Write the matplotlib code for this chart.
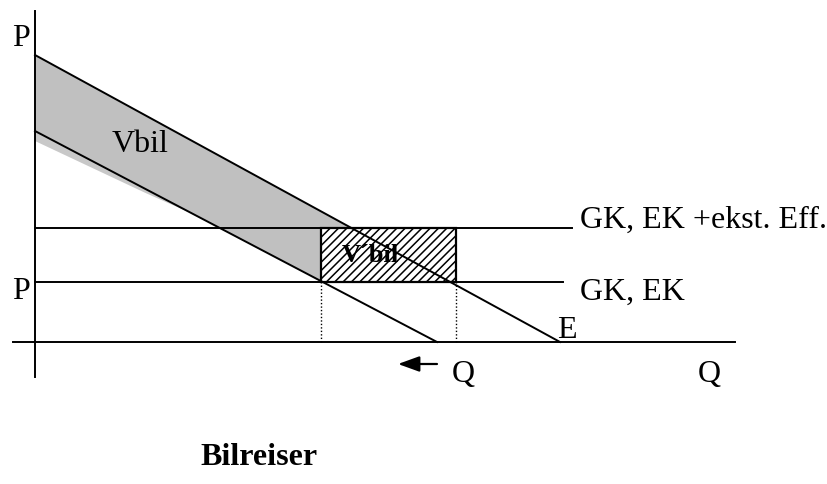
import numpy as np
import matplotlib
matplotlib.use("Agg")
import matplotlib.pyplot as plt
from matplotlib.patches import Rectangle, Polygon

plt.rcParams['font.family'] = ['Liberation Serif', 'DejaVu Serif']
plt.rcParams['hatch.linewidth'] = 1.1
plt.rcParams['hatch.color'] = '#555555'

# demand curves (P-intercept, Q-intercept)
demand_before = (287, 525)   # E
demand_after = (211, 402)    # shifted in
# price levels: GK, EK  and  GK, EK + ekst. Eff.
p_low = 60
p_high = 114
p_line_end = [528, 537]
price_labels = ["GK, EK", "GK, EK +ekst. Eff."]
# tax wedge rectangle V'bil
rect_q = [286, 421]
# axis extents
q_axis = [-22, 700]
p_axis = [-35, 331]


def demand(q, d):
    p0, q0 = d
    return p0 * (1 - q / q0)


fig = plt.figure(figsize=(8.28, 4.85), dpi=100)
ax = fig.add_axes([0, 0, 1, 1])
ax.set_xlim(-35, 793)
ax.set_ylim(-142, 343)
ax.axis('off')

lw = 1.4
# axes
ax.plot(q_axis, [0, 0], color='black', lw=lw)
ax.plot([0, 0], p_axis, color='black', lw=lw)

# grey band between the two demand curves
q_top = demand_before[1] * (1 - p_high / demand_before[0])
qq = np.linspace(0, q_top, 200)
upper = demand(qq, demand_before)
lower = np.maximum(demand(qq, demand_after), p_low)
ax.fill_between(qq, lower, upper, color='#c0c0c0', lw=0, zorder=1)
# shadow under the lower curve
ax.add_patch(Polygon([(0, demand_after[0]), (0, demand_after[0] - 10),
                      (110, demand(110, demand_after) - 4),
                      (160, demand(160, demand_after))],
                     closed=True, color='#c8c8c8', lw=0, zorder=1))

# price lines
ax.plot([0, p_line_end[0]], [p_low, p_low], color='black', lw=lw, zorder=3)
ax.plot([0, p_line_end[1]], [p_high, p_high], color='black', lw=lw, zorder=3)

# hatched rectangle
ax.add_patch(Rectangle((rect_q[0], p_low), rect_q[1] - rect_q[0], p_high - p_low,
                       facecolor='white', edgecolor='black', hatch='////',
                       lw=1.6, zorder=2))

# demand curves
ax.plot([0, demand_before[1]], [demand_before[0], 0], color='black', lw=lw, zorder=4)
ax.plot([0, demand_after[1]], [demand_after[0], 0], color='black', lw=lw, zorder=4)

# dotted drop lines
for q in rect_q:
    ax.plot([q, q], [0, p_low], color='black', lw=1.0, ls=(0, (1, 1.5)), zorder=3)

# arrow
ax.annotate('', xy=(363, -22), xytext=(402, -22),
            arrowprops=dict(arrowstyle='-|>,head_length=1.3,head_width=0.47',
                            color='black', lw=1.6, shrinkA=0, shrinkB=0))

fs = 23
ax.text(-23, 297, "P", fontsize=fs, ha='left', va='baseline')
ax.text(-23, 44, "P", fontsize=fs, ha='left', va='baseline')
ax.text(77, 191, "Vbil", fontsize=fs, ha='left', va='baseline')
ax.text(307, 81, "V\u00b4bil", fontsize=19, fontweight='bold', ha='left', va='baseline', zorder=5)
ax.text(545, 115, price_labels[1], fontsize=fs, ha='left', va='baseline')
ax.text(545, 43, price_labels[0], fontsize=fs, ha='left', va='baseline')
ax.text(522, 5, "E", fontsize=fs, ha='left', va='baseline')
ax.text(417, -39, "Q", fontsize=fs, ha='left', va='baseline')
ax.text(663, -39, "Q", fontsize=fs, ha='left', va='baseline')
ax.text(165, -122, "Bilreiser", fontsize=fs, fontweight='bold', ha='left', va='baseline')

fig.savefig("out.png", dpi=100)
